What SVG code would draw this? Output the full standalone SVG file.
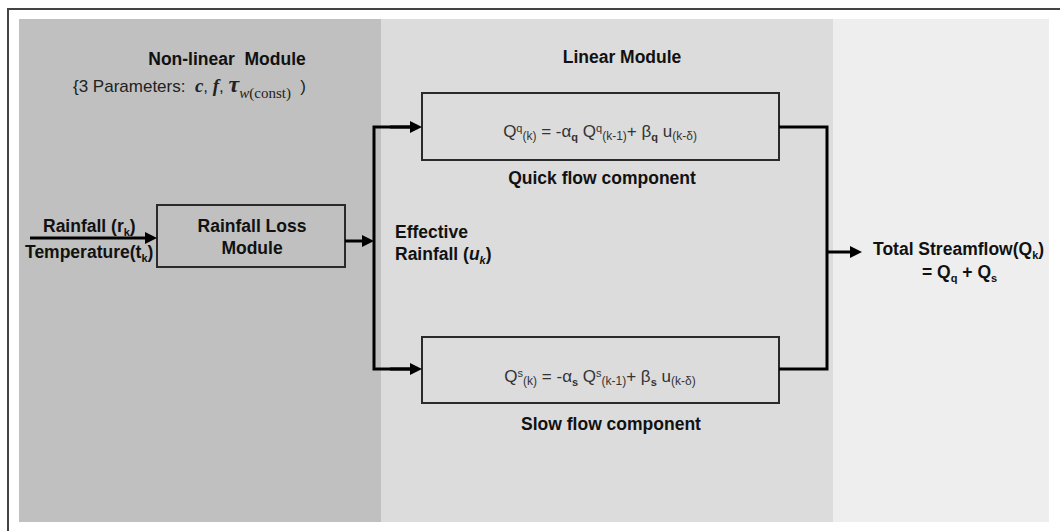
<svg xmlns="http://www.w3.org/2000/svg" width="1060" height="531" viewBox="0 0 1060 531">
  <defs>
    <style>
      .lbl { font-family: "Liberation Sans", Arial, sans-serif; font-weight: bold; font-size: 17.5px; fill: #111; }
      .reg { font-family: "Liberation Sans", Arial, sans-serif; font-size: 17px; fill: #222; }
      .eq { font-family: "Liberation Sans", Arial, sans-serif; font-size: 17px; fill: #333; }
      .sym { font-family: "Liberation Serif", "Times New Roman", serif; font-weight: bold; font-style: italic; }
      .box { fill: none; stroke: #2a2a2a; stroke-width: 2; }
      .wire { fill: none; stroke: #000; stroke-width: 3; }
    </style>
    <marker id="head" markerUnits="userSpaceOnUse" markerWidth="13" markerHeight="12" refX="0" refY="6" orient="auto">
      <path d="M0,0 L12,6 L0,12 z" fill="#000"/>
    </marker>
  </defs>

  <!-- page background and frame -->
  <rect x="0" y="0" width="1060" height="531" fill="#fff"/>
  <path d="M8,531 V9 H1060" fill="none" stroke="#444" stroke-width="2"/>

  <!-- module panels -->
  <g id="panels">
    <rect x="19" y="19" width="362" height="503" fill="#c0c0c0"/>
    <rect x="381" y="19" width="452" height="503" fill="#dcdcdc"/>
    <rect x="833" y="19" width="216" height="503" fill="#eeeeee"/>
  </g>

  <!-- panel titles -->
  <g id="nonlinear-title">
    <text class="lbl" x="227" y="65" text-anchor="middle">Non-linear&#160; Module</text>
    <text class="reg" x="73" y="92">{3 Parameters:&#160; <tspan class="sym" font-size="19">c</tspan>, <tspan class="sym" font-size="19">f</tspan>, <tspan class="sym" font-size="24">τ</tspan><tspan font-family="Liberation Serif, serif" font-size="15" dy="6"><tspan font-style="italic">w</tspan>(const)</tspan><tspan dy="-6">&#160; )</tspan></text>
  </g>
  <g id="linear-title">
    <text class="lbl" x="622" y="63" text-anchor="middle">Linear Module</text>
  </g>

  <!-- inputs -->
  <g id="inputs">
    <text class="lbl" x="43" y="232">Rainfall (r<tspan font-size="11" dy="4">k</tspan><tspan dy="-4">)</tspan></text>
    <text class="lbl" x="25" y="258">Temperature(t<tspan font-size="11" dy="4">k</tspan><tspan dy="-4">)</tspan></text>
  </g>

  <!-- rainfall loss module -->
  <g id="rainfall-loss">
    <rect class="box" x="157" y="205" width="188" height="62"/>
    <text class="lbl" x="252" y="232" text-anchor="middle">Rainfall Loss</text>
    <text class="lbl" x="252" y="254" text-anchor="middle">Module</text>
  </g>

  <!-- effective rainfall label -->
  <g id="effective-rainfall">
    <text class="lbl" x="395" y="238">Effective</text>
    <text class="lbl" x="395" y="260">Rainfall (<tspan font-style="italic">u</tspan><tspan font-size="11" font-style="italic" dy="4">k</tspan><tspan dy="-4">)</tspan></text>
  </g>

  <!-- quick flow store -->
  <g id="quick-flow">
    <rect class="box" x="422" y="93" width="357" height="67"/>
    <text class="eq" x="600" y="137" text-anchor="middle">Q<tspan font-size="11" dy="-5">q</tspan><tspan font-size="12" dy="8">(k)</tspan><tspan dy="-3"> = -α</tspan><tspan font-size="11" font-weight="bold" dy="4">q</tspan><tspan dy="-4"> Q</tspan><tspan font-size="11" dy="-5">q</tspan><tspan font-size="12" dy="8">(k-1)</tspan><tspan dy="-3">+ β</tspan><tspan font-size="11" font-weight="bold" dy="4">q</tspan><tspan dy="-4"> u</tspan><tspan font-size="12" dy="3">(k-δ)</tspan></text>
    <text class="lbl" x="602" y="184" text-anchor="middle">Quick flow component</text>
  </g>

  <!-- slow flow store -->
  <g id="slow-flow">
    <rect class="box" x="422" y="337" width="357" height="66"/>
    <text class="eq" x="600" y="382" text-anchor="middle">Q<tspan font-size="11" dy="-5">s</tspan><tspan font-size="12" dy="8">(k)</tspan><tspan dy="-3"> = -α</tspan><tspan font-size="11" font-weight="bold" dy="4">s</tspan><tspan dy="-4"> Q</tspan><tspan font-size="11" dy="-5">s</tspan><tspan font-size="12" dy="8">(k-1)</tspan><tspan dy="-3">+ β</tspan><tspan font-size="11" font-weight="bold" dy="4">s</tspan><tspan dy="-4"> u</tspan><tspan font-size="12" dy="3">(k-δ)</tspan></text>
    <text class="lbl" x="611" y="430" text-anchor="middle">Slow flow component</text>
  </g>

  <!-- total output -->
  <g id="total-streamflow">
    <text class="lbl" x="873" y="255">Total Streamflow(Q<tspan font-size="11" dy="4">k</tspan><tspan dy="-4">)</tspan></text>
    <text class="lbl" x="922" y="278">= Q<tspan font-size="11" dy="4">q</tspan><tspan dy="-4"> + Q</tspan><tspan font-size="11" dy="4">s</tspan></text>
  </g>

  <!-- connectors -->
  <g id="connectors">
    <line class="wire" x1="30" y1="238" x2="145" y2="238" marker-end="url(#head)"/>
    <line class="wire" x1="345" y1="241" x2="362" y2="241" marker-end="url(#head)"/>
    <path class="wire" d="M410,127 H374 V369 H410"/>
    <line class="wire" x1="390" y1="127" x2="410" y2="127" marker-end="url(#head)"/>
    <line class="wire" x1="390" y1="369" x2="410" y2="369" marker-end="url(#head)"/>
    <path class="wire" d="M779,127 H827 V369 H779"/>
    <line class="wire" x1="827" y1="252" x2="850" y2="252" marker-end="url(#head)"/>
  </g>
</svg>
